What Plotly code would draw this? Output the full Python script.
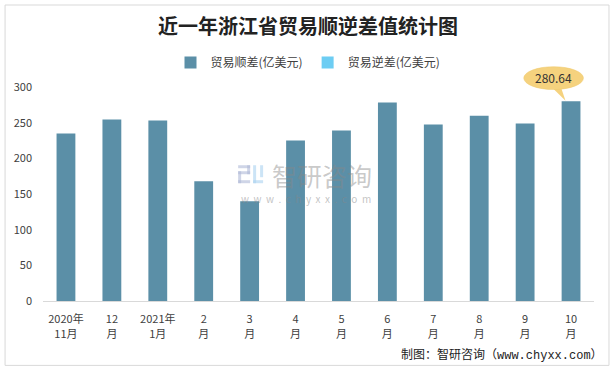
import plotly.graph_objects as go

categories = ["2020年<br>11月", "12<br>月", "2021年<br>1月", "2<br>月", "3<br>月", "4<br>月",
              "5<br>月", "6<br>月", "7<br>月", "8<br>月", "9<br>月", "10<br>月"]
surplus = [235.2, 254.8, 253.3, 168.0, 140.2, 225.3, 239.5, 278.6, 247.9, 260.3, 249.2, 280.64]
deficit = [None] * 12
series_names = ["贸易顺差(亿美元)", "贸易逆差(亿美元)"]
title_text = "近一年浙江省贸易顺逆差值统计图"
footer_text = "制图：智研咨询（www.chyxx.com）"

W, H = 616, 370
L, R, T, B = 42.5, 21.5, 65.6, 69
pw, ph = W - L - R, H - T - B

def px_x(x):
    return (x - L) / pw

def px_y(y):
    return (H - B - y) / ph

xs = list(range(len(categories)))
FONT = "Noto Sans CJK SC"
TXT = "#404040"

fig = go.Figure()
fig.add_trace(go.Bar(x=xs, y=surplus, name=series_names[0], marker_color="#5B8FA7",
                     width=0.41, marker_line_width=0))
fig.add_trace(go.Bar(x=xs, y=deficit, name=series_names[1], marker_color="#6DCDF3",
                     width=0.41, marker_line_width=0))

# callout for the last value
last_i = len(surplus) - 1
last_v = surplus[last_i]
fig.add_shape(type="path",
              path=f"M {last_i-0.42} 300 L {last_i-0.12} {last_v+0.5} L {last_i-0.22} 300 Z",
              fillcolor="#F5D27E", line_width=0, layer="above")
fig.add_shape(type="circle", x0=last_i - 1.03, x1=last_i + 0.27, y0=297, y1=329,
              fillcolor="#F5D27E", line=dict(color="#EFC86A", width=0.5), layer="above")
fig.add_annotation(x=last_i - 0.38, y=314, text=f"{last_v:.2f}", showarrow=False,
                   yanchor="middle", xanchor="center",
                   font=dict(size=12, color="#333333", family=FONT))

# watermark logo (simple blocks)
def prect(x0, y0, x1, y1, color):
    fig.add_shape(type="rect", xref="paper", yref="paper",
                  x0=px_x(x0), x1=px_x(x1), y0=px_y(y1), y1=px_y(y0),
                  fillcolor=color, line_width=0, layer="above")

c1 = "rgba(175,185,215,0.6)"
c2 = "rgba(170,210,240,0.6)"
prect(238, 165, 250, 168, c1)
prect(247, 165, 250, 174, c1)
prect(238, 171, 250, 174, c1)
prect(238, 171, 241, 183, c1)
prect(238, 180, 250, 183, c1)
prect(253, 165, 256, 183, c2)
prect(253, 180, 263, 183, c2)
prect(260, 165, 263, 177, c2)

fig.add_annotation(xref="paper", yref="paper", x=px_x(322), y=px_y(175),
                   text="智研咨询", showarrow=False, xanchor="center", yanchor="middle",
                   font=dict(size=25, color="rgba(135,135,135,0.45)", family=FONT))
fig.add_annotation(xref="paper", yref="paper", x=px_x(306), y=px_y(198),
                   text="w  w  w  .  c  h  y  x  x  .  c  o  m", showarrow=False,
                   xanchor="center", yanchor="middle",
                   font=dict(size=10, color="rgba(135,135,135,0.5)", family=FONT))

# footer
fig.add_annotation(xref="paper", yref="paper", x=px_x(606), y=px_y(355),
                   xanchor="right", yanchor="middle", text=footer_text, showarrow=False,
                   font=dict(size=12, color="#222222",
                             family="Liberation Mono, Noto Sans CJK SC"))

# border
fig.add_shape(type="rect", xref="paper", yref="paper",
              x0=px_x(4.5), x1=px_x(609.5), y0=px_y(365.5), y1=px_y(4.5),
              line=dict(color="#D9D9D9", width=1))

fig.update_layout(
    width=W, height=H,
    margin=dict(l=L, r=R, t=T, b=B, autoexpand=False),
    paper_bgcolor="white", plot_bgcolor="white",
    barmode="overlay",
    title=dict(text=f"<b>{title_text}</b>", x=0.5, xref="container", xanchor="center",
               y=1 - 27 / H, yref="container", yanchor="middle",
               font=dict(size=20, color="#222222", family=FONT)),
    legend=dict(orientation="h", x=0.5, xref="container", xanchor="center",
                y=px_y(62), yanchor="middle",
                font=dict(size=12, color=TXT, family=FONT),
                itemwidth=30, tracegroupgap=0),
    font=dict(family=FONT, color=TXT),
    xaxis=dict(range=[-0.5, len(categories) - 0.5], tickvals=xs, ticktext=categories,
               showline=True, linecolor="#D9D9D9", linewidth=1, showgrid=False,
               zeroline=False, ticks="", tickangle=0, automargin=False,
               ticklabelstandoff=8,
               tickfont=dict(size=11, color=TXT, family=FONT)),
    yaxis=dict(range=[0, 330], tickvals=[0, 50, 100, 150, 200, 250, 300],
               showgrid=False, zeroline=False, showline=False, ticks="",
               ticklabelstandoff=10, automargin=False,
               tickfont=dict(size=11, color=TXT, family=FONT)),
    showlegend=True,
)

fig.write_html("out.html", config={"displayModeBar": False},
               post_script="document.body.style.margin='0';")
